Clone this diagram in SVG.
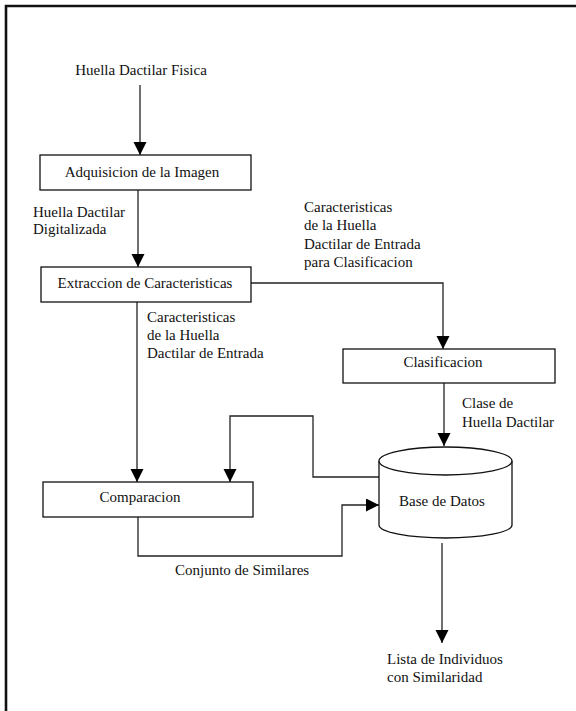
<svg xmlns="http://www.w3.org/2000/svg" width="576" height="711" viewBox="0 0 576 711" font-family="'Liberation Serif', 'Times New Roman', serif" font-size="15">
<style>
text{font-family:'Liberation Serif','Times New Roman',serif;font-size:15px;fill:#111}
.box{fill:#fff;stroke:#111;stroke-width:1.3}
.c{fill:none;stroke:#222;stroke-width:1.3}
.mid{text-anchor:middle}
</style>
<defs>
<marker id="ah" markerUnits="userSpaceOnUse" markerWidth="14" markerHeight="14" refX="13" refY="6.5" orient="auto" viewBox="0 0 14 14">
<path d="M0,0 L13,6.5 L0,13 z" fill="#000"/>
</marker>
</defs>
<rect width="576" height="711" fill="#fff"/>
<path d="M6,711 V6 H576" fill="none" stroke="#111" stroke-width="2.6"/>

<g id="connectors">
<path class="c" d="M140,85 V155" marker-end="url(#ah)"/>
<path class="c" d="M138,190 V267" marker-end="url(#ah)"/>
<path class="c" d="M251,283 H443 V349" marker-end="url(#ah)"/>
<path class="c" d="M137,302 V482" marker-end="url(#ah)"/>
<path class="c" d="M444,383 V446" marker-end="url(#ah)"/>
<path class="c" d="M379,477 H313 V416 H230 V482" marker-end="url(#ah)"/>
<path class="c" d="M138,517 V556 H342 V505 H379" marker-end="url(#ah)"/>
<path class="c" d="M442,543 V643" marker-end="url(#ah)"/>
<text x="33" y="217">Huella Dactilar</text>
<text x="33" y="234">Digitalizada</text>
<text x="304" y="212">Caracteristicas</text>
<text x="304" y="230">de la Huella</text>
<text x="304" y="249">Dactilar de Entrada</text>
<text x="304" y="267">para Clasificacion</text>
<text x="147" y="322">Caracteristicas</text>
<text x="147" y="340">de la Huella</text>
<text x="147" y="358">Dactilar de Entrada</text>
<text x="462" y="408">Clase de</text>
<text x="462" y="427">Huella Dactilar</text>
<text x="175" y="575">Conjunto de Similares</text>
</g>

<g id="huella-fisica">
<text x="141" y="75" class="mid">Huella Dactilar Fisica</text>
</g>

<g id="adquisicion">
<rect class="box" x="40" y="155" width="211" height="35"/>
<text x="142" y="177" class="mid">Adquisicion de la Imagen</text>
</g>

<g id="extraccion">
<rect class="box" x="41" y="267" width="210" height="35"/>
<text x="145" y="288" class="mid">Extraccion de Caracteristicas</text>
</g>

<g id="clasificacion">
<rect class="box" x="343" y="349" width="212" height="34"/>
<text x="443" y="367" class="mid">Clasificacion</text>
</g>

<g id="comparacion">
<rect class="box" x="43" y="482" width="210" height="35"/>
<text x="140" y="502" class="mid">Comparacion</text>
</g>

<g id="base-de-datos">
<path class="box" d="M379,461 V525 A66.5,13 0 0 0 512,525 V461"/>
<ellipse class="box" cx="445.5" cy="461" rx="66.5" ry="14"/>
<text x="442" y="506" class="mid">Base de Datos</text>
</g>

<g id="lista">
<text x="387" y="664">Lista de Individuos</text>
<text x="387" y="682">con Similaridad</text>
</g>
</svg>
